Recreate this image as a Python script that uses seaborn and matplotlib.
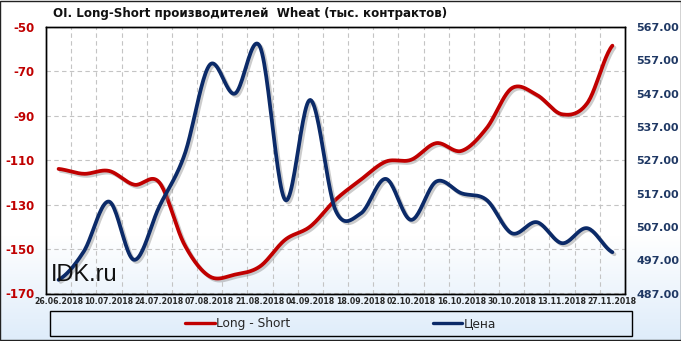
import numpy as np
import pandas as pd
import matplotlib
matplotlib.use("Agg")
import matplotlib.pyplot as plt
import seaborn as sns
import matplotlib.patheffects as pe
from matplotlib.patches import Rectangle
from matplotlib.lines import Line2D

# ---- data ----
dates = ["26.06.2018", "03.07.2018", "10.07.2018", "17.07.2018", "24.07.2018",
         "31.07.2018", "07.08.2018", "14.08.2018", "21.08.2018", "28.08.2018",
         "04.09.2018", "11.09.2018", "18.09.2018", "25.09.2018", "02.10.2018",
         "09.10.2018", "16.10.2018", "23.10.2018", "30.10.2018", "06.11.2018",
         "13.11.2018", "20.11.2018", "27.11.2018"]
long_short = [-113.9, -116.1, -114.8, -121.0, -120.0, -148.0, -162.3, -161.5,
              -157.8, -145.8, -139.8, -127.8, -118.8, -110.6, -109.8, -102.3,
              -105.8, -95.6, -77.6, -80.6, -89.3, -84.3, -58.4]
price = [491.1, 499.6, 514.6, 497.1, 513.1, 528.6, 555.6, 547.0, 561.1, 515.1,
         545.1, 512.0, 511.0, 521.4, 509.1, 520.6, 517.1, 515.1, 505.1, 508.4,
         502.1, 506.6, 499.4]
left_ticks = list(range(-170, -49, 20))
right_ticks = list(range(487, 568, 10))

title = "OI. Long-Short производителей  Wheat (тыс. контрактов)"
RED = "#C00000"
NAVY = "#0B2A68"


def smooth(vals, n=24):
    """Catmull-Rom style smoothing (like Excel 'smoothed line') for display."""
    p = np.asarray(vals, dtype=float)
    xs, ys = [], []
    m = len(p)
    for i in range(m - 1):
        p0 = p[max(i - 1, 0)]
        p1 = p[i]
        p2 = p[i + 1]
        p3 = p[min(i + 2, m - 1)]
        m1 = (p2 - p0) / 2.0
        m2 = (p3 - p1) / 2.0
        t = np.linspace(0, 1, n, endpoint=False)
        h00 = 2 * t**3 - 3 * t**2 + 1
        h10 = t**3 - 2 * t**2 + t
        h01 = -2 * t**3 + 3 * t**2
        h11 = t**3 - t**2
        ys.extend(h00 * p1 + h10 * m1 + h01 * p2 + h11 * m2)
        xs.extend(i + t)
    xs.append(m - 1)
    ys.append(p[-1])
    return np.array(xs), np.array(ys)


sns.set_style("white")
plt.rcParams["font.family"] = ["DejaVu Sans"]

W, H = 681, 341
fig = plt.figure(figsize=(W / 100, H / 100), dpi=100)

# background gradient
grad = np.ones((H, 1, 3))
start = 235
for r in range(start, H):
    f = (r - start) / (H - start)
    grad[r, 0] = (1 - 0.13 * f, 1 - 0.075 * f, 1 - 0.02 * f)
bg = fig.add_axes([0, 0, 1, 1], zorder=-10)
bg.imshow(grad, aspect="auto", extent=(0, 1, 0, 1))
bg.set_axis_off()
fig.patches.append(Rectangle((0.0007, 0.0015), 0.9986, 0.997, transform=fig.transFigure,
                             fill=False, edgecolor="#222222", lw=1.0))

L, B = 46 / W, 1 - 293.5 / H
ax = fig.add_axes([L, B, 625 / W - L, (293.5 - 27) / H])
ax.patch.set_alpha(0)

x = np.arange(len(dates))
sx, sy = smooth(long_short)
df_ls = pd.DataFrame({"x": sx, "v": sy})
shadow = [pe.SimpleLineShadow(offset=(1.5, -1.5), shadow_color="#808080", alpha=0.4),
          pe.Normal()]
sns.lineplot(data=df_ls, x="x", y="v", ax=ax, color=RED, lw=2.7, legend=False,
             path_effects=shadow, zorder=3)
ax.set_xlim(-0.5, len(dates) - 0.5)
ax.set_ylim(-170, -50)
ax.set_yticks(left_ticks)
ax.set_yticklabels([str(v) for v in left_ticks])
ax.set_xticks(x[::2])
ax.set_xticklabels(dates[::2])
ax.set_xticks(np.arange(0.5, len(dates) - 1, 1), minor=True)
ax.grid(which="minor", axis="x", color="#C4C4C4", lw=0.8, ls=(0, (4, 3)))
ax.grid(which="major", axis="y", color="#C4C4C4", lw=0.8, ls=(0, (4, 3)))
ax.grid(which="major", axis="x", visible=False)
ax.set_xlabel("")
ax.set_ylabel("")
ax.tick_params(axis="y", length=0, pad=8, labelcolor=RED, labelsize=8.5)
ax.tick_params(axis="x", which="both", length=0, pad=2.5, labelsize=5.6)
for lab in ax.get_yticklabels() + ax.get_xticklabels():
    lab.set_fontweight("bold")
for s in ax.spines.values():
    s.set_color("black")
    s.set_linewidth(1.0)

ax2 = ax.twinx()
px, py = smooth(price)
df_p = pd.DataFrame({"x": px, "v": py})
sns.lineplot(data=df_p, x="x", y="v", ax=ax2, color=NAVY, lw=2.7, legend=False,
             path_effects=shadow, zorder=4)
ax2.set_ylim(487, 567)
ax2.set_yticks(right_ticks)
ax2.set_yticklabels([f"{v:.2f}" for v in right_ticks])
ax2.set_ylabel("")
ax2.tick_params(axis="y", length=0, pad=8, labelcolor="#1F3864", labelsize=8)
for lab in ax2.get_yticklabels():
    lab.set_fontweight("bold")
ax2.grid(False)
for s in ax2.spines.values():
    s.set_color("black")
    s.set_linewidth(1.0)

# title and watermark
fig.text(53 / W, 1 - 13 / H, title, ha="left", va="center", fontsize=8.6,
         fontweight="bold", color="#111111")
fig.text(51 / W, 1 - 281 / H, "IDK.ru", ha="left", va="baseline", fontsize=17,
         family=["Liberation Sans", "DejaVu Sans"], color="#111111", zorder=5)

# legend
lx0, lx1, ly0, ly1 = 50, 632, 311, 336
fig.patches.append(Rectangle((lx0 / W, 1 - ly1 / H), (lx1 - lx0) / W, (ly1 - ly0) / H,
                             transform=fig.transFigure, fill=False,
                             edgecolor="black", lw=1.0))
handles = [Line2D([], [], color=RED, lw=2.4), Line2D([], [], color=NAVY, lw=2.4)]
fig.legend(handles, ["Long - Short", "Цена"], loc="center",
           bbox_to_anchor=(0.5, 1 - (ly0 + ly1) / 2 / H), ncol=2, frameon=False,
           handlelength=2.45, handletextpad=0.1, columnspacing=11.8,
           borderpad=0.0, borderaxespad=0.0,
           prop={"family": ["DejaVu Sans"], "size": 8.7})

fig.savefig("out.png", dpi=100)
